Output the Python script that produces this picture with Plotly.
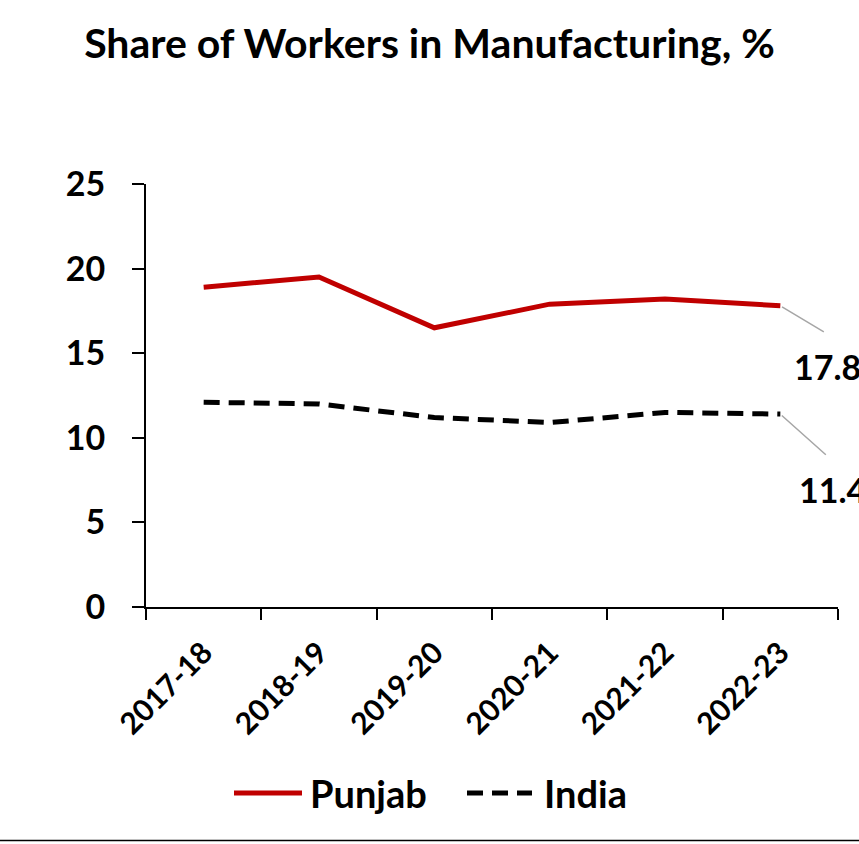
import plotly.graph_objects as go

years = ["2017-18", "2018-19", "2019-20", "2020-21", "2021-22", "2022-23"]
punjab = [18.9, 19.5, 16.5, 17.9, 18.2, 17.8]
india = [12.1, 12.0, 11.2, 10.9, 11.5, 11.4]
y_ticks = [0, 5, 10, 15, 20, 25]
series_names = ["Punjab", "India"]

FONT = "Lato"
W, H = 859, 844
L, R, T, B = 146, 21, 184, 237
PW, PH = W - L - R, H - T - B


def px_x(p):
    return (p - L) / PW


def px_y(p):
    return (H - B - p) / PH


RED = "#C00000"
DASH = "16px,9px"

fig = go.Figure()
fig.add_trace(go.Scatter(x=years, y=punjab, name=series_names[0], mode="lines",
                         line=dict(color=RED, width=5)))
fig.add_trace(go.Scatter(x=years, y=india, name=series_names[1], mode="lines",
                         line=dict(color="#000000", width=5, dash=DASH)))

# last-point labels with leader lines
for series, ax_l, ay_l, dx, dy in [(punjab, 45, 27, 12, -61), (india, 47, 42, 17, -75)]:
    val = series[-1]
    fig.add_annotation(x=years[-1], y=val, text=" ", font=dict(size=1),
                       showarrow=True, arrowhead=0, arrowwidth=1.5,
                       arrowcolor="#A6A6A6", ax=ax_l, ay=ay_l, standoff=2)
    fig.add_annotation(x=years[-1], y=val, text=f"{val}", xanchor="left",
                       showarrow=False, xshift=dx, yshift=dy,
                       font=dict(family=FONT, size=34, color="black", weight="bold"))

# legend (drawn manually to match long line samples)
ly = px_y(793)
fig.add_shape(type="line", xref="paper", yref="paper", x0=px_x(234), x1=px_x(302),
              y0=ly, y1=ly, line=dict(color=RED, width=5))
fig.add_shape(type="line", xref="paper", yref="paper", x0=px_x(467), x1=px_x(532),
              y0=ly, y1=ly, line=dict(color="black", width=5, dash=DASH))
for name, xl in [(series_names[0], 308), (series_names[1], 542)]:
    fig.add_annotation(xref="paper", yref="paper", x=px_x(xl), y=ly, text=name,
                       xanchor="left", yanchor="middle", showarrow=False,
                       font=dict(family=FONT, size=38, color="black", weight="bold"))

# bottom border line
fig.add_shape(type="line", xref="paper", yref="paper", x0=px_x(-10), x1=px_x(W + 10),
              y0=px_y(840.5), y1=px_y(840.5), line=dict(color="black", width=1.5))

fig.update_layout(
    width=W, height=H,
    margin=dict(l=L, r=R, t=T, b=B),
    plot_bgcolor="white", paper_bgcolor="white",
    title=dict(text="Share of Workers in Manufacturing, %",
               x=0.5, xref="container", xanchor="center", y=0.948, yanchor="middle",
               font=dict(family=FONT, size=41, color="black", weight="bold")),
    font=dict(family=FONT, color="black"),
    showlegend=False,
    xaxis=dict(type="category", range=[-0.5, 5.5], showline=True, linecolor="black",
               linewidth=2, ticks="outside", ticklen=11, tickwidth=2, tickcolor="black",
               tickson="boundaries", showgrid=False, tickangle=-45,
               tickfont=dict(family=FONT, size=30, color="black", weight="bold"),
               ticklabelstandoff=14),
    yaxis=dict(range=[0, 25], tickvals=y_ticks, showline=True, linecolor="black",
               linewidth=2, ticks="outside", ticklen=12, tickwidth=2, tickcolor="black",
               showgrid=False, zeroline=False,
               tickfont=dict(family=FONT, size=34, color="black", weight="bold"),
               ticklabelstandoff=20),
)

fig.write_html("out.html", config={"displayModeBar": False},
               post_script="document.body.style.margin='0';")
